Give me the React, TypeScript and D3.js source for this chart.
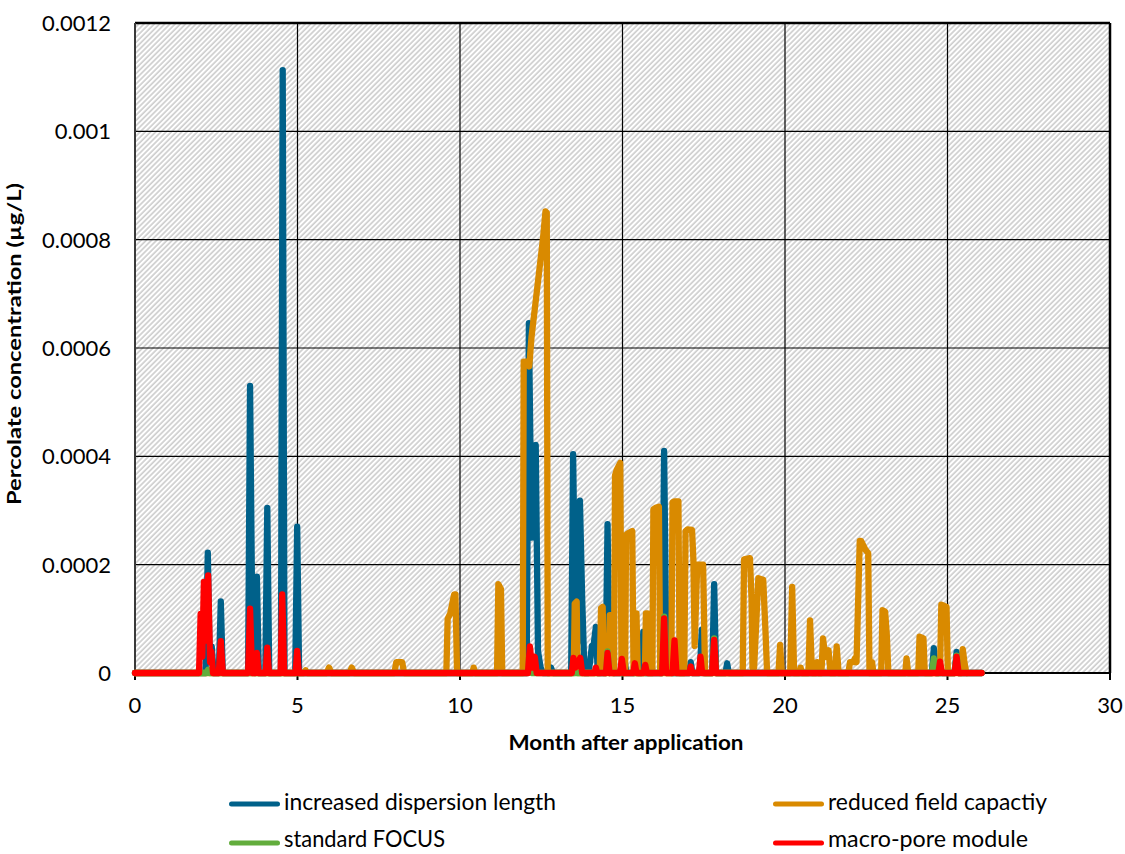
import React from "react";
import * as d3 from "d3";

type Pt = [number, number];

// Axis ticks
const xTicks = [0, 5, 10, 15, 20, 25, 30];
const yTicks = [0, 0.0002, 0.0004, 0.0006, 0.0008, 0.001, 0.0012];
const yTickLabels = ["0", "0.0002", "0.0004", "0.0006", "0.0008", "0.001", "0.0012"];

// Percolate concentration (µg/L) against month after application
const dispersionSeries: Pt[] = [
  [0, 0],
  [2.17, 0], [2.24, 0.000222], [2.3, 0.00002], [2.36, 0.000049], [2.42, 0],
  [2.58, 0], [2.64, 0.000132], [2.7, 0],
  [3.48, 0], [3.54, 0.00053], [3.62, 0.00002], [3.7, 0], [3.75, 0.000178], [3.81, 0],
  [4.01, 0], [4.07, 0.000305], [4.13, 0],
  [4.49, 0], [4.545, 0.001113], [4.6, 0],
  [4.93, 0], [4.99, 0.00027], [5.05, 0],
  [12.05, 0], [12.12, 0.000646], [12.2, 0.00025], [12.28, 0.00042], [12.33, 0.000421], [12.4, 0.00004], [12.48, 0.00001], [12.55, 0],
  [12.75, 0], [12.8, 0.00001], [12.86, 0],
  [13.42, 0], [13.48, 0.000404], [13.56, 0.00005], [13.64, 0.00006], [13.69, 0.000318], [13.76, 0.000135], [13.83, 0],
  [13.95, 0], [14.0, 0.00002], [14.06, 0.00005], [14.1, 0.000046], [14.18, 0.000085], [14.24, 0],
  [14.48, 0], [14.54, 0.000275], [14.6, 0], [14.66, 0.00002], [14.72, 0],
  [15.02, 0], [15.07, 0.00002], [15.12, 0],
  [15.36, 0], [15.42, 0.00003], [15.48, 0], [15.58, 0], [15.64, 0.000076], [15.7, 0],
  [16.22, 0], [16.28, 0.00041], [16.35, 0.00003], [16.45, 0.00004], [16.52, 0],
  [17.05, 0], [17.1, 0.00002], [17.15, 0],
  [17.38, 0], [17.44, 0.00008], [17.5, 0],
  [17.76, 0], [17.82, 0.000164], [17.88, 0],
  [18.17, 0], [18.22, 0.000018], [18.27, 0],
  [24.52, 0], [24.58, 0.000046], [24.65, 0],
  [25.22, 0], [25.28, 0.000039], [25.34, 0],
  [26.05, 0],
];

const fieldCapacitySeries: Pt[] = [
  [0, 0],
  [5.2, 0], [5.25, 0.000005], [5.3, 0],
  [5.9, 0], [5.97, 0.00001], [6.04, 0],
  [6.6, 0], [6.67, 0.00001], [6.74, 0],
  [7.98, 0], [8.04, 0.00002], [8.22, 0.00002], [8.28, 0],
  [9.58, 0], [9.62, 0.0001], [9.7, 0.00011], [9.82, 0.000145], [9.86, 0.000145], [9.91, 0],
  [10.38, 0], [10.42, 0.00001], [10.46, 0],
  [11.14, 0], [11.18, 0.000164], [11.26, 0.000155], [11.3, 0],
  [11.93, 0], [11.96, 0.000575], [12.06, 0.000575], [12.13, 0.000566], [12.2, 0.00062], [12.55, 0.0008], [12.63, 0.000852], [12.67, 0.00085], [12.7, 0],
  [13.5, 0], [13.53, 0.000128], [13.59, 0.000132], [13.62, 0],
  [14.3, 0], [14.34, 0.00012], [14.39, 0.000122], [14.43, 0],
  [14.58, 0], [14.61, 0.000107], [14.66, 0.000107], [14.7, 0],
  [14.74, 0], [14.77, 0.000365], [14.82, 0.000375], [14.93, 0.000388], [14.97, 0],
  [15.08, 0], [15.11, 0.000255], [15.17, 0.000258], [15.3, 0.000262], [15.34, 0],
  [15.4, 0], [15.43, 0.00011], [15.47, 0],
  [15.69, 0], [15.72, 0.00011], [15.77, 0.00011], [15.8, 0],
  [15.92, 0], [15.95, 0.000302], [16.02, 0.000305], [16.12, 0.000307], [16.16, 0],
  [16.5, 0], [16.54, 0.000315], [16.6, 0.000317], [16.72, 0.000317], [16.76, 0],
  [16.9, 0], [16.94, 0.000262], [17.0, 0.000265], [17.14, 0.000264], [17.18, 0.00021], [17.22, 0.00005], [17.3, 0.0002], [17.48, 0.0002], [17.54, 0],
  [18.7, 0], [18.74, 0.00021], [18.92, 0.000212], [18.97, 0.000138], [19.0, 0.00001], [19.05, 0.00001], [19.18, 0.000175], [19.33, 0.000172], [19.4, 0.000076], [19.45, 0],
  [19.8, 0], [19.85, 0.000052], [19.9, 0],
  [20.16, 0], [20.22, 0.000159], [20.28, 0],
  [20.44, 0], [20.48, 0.00001], [20.52, 0],
  [20.72, 0], [20.77, 0.000097], [20.83, 0],
  [20.95, 0], [20.99, 0.00002], [21.03, 0],
  [21.12, 0], [21.17, 0.000064], [21.24, 0.00003], [21.34, 0.000042], [21.4, 0],
  [21.54, 0], [21.59, 0.000049], [21.65, 0],
  [21.95, 0], [22.0, 0.00002], [22.1, 0.00002], [22.15, 0.000027], [22.2, 0.00002],
  [22.3, 0.000244], [22.34, 0.000244], [22.47, 0.000228], [22.56, 0.000221], [22.6, 0],
  [22.65, 0], [22.68, 0.00002], [22.72, 0],
  [22.96, 0], [23.0, 0.000116], [23.08, 0.000113], [23.13, 0.000073], [23.18, 0],
  [23.7, 0], [23.74, 0.000027], [23.79, 0],
  [24.1, 0], [24.14, 0.000067], [24.26, 0.000064], [24.3, 0],
  [24.77, 0], [24.81, 0.000126], [24.97, 0.000122], [25.01, 0],
  [25.42, 0], [25.47, 0.000044], [25.52, 0.00002], [25.58, 0],
  [25.6, 0],
];

const standardSeries: Pt[] = [
  [0, 0],
  [2.2, 0], [2.25, 0.000006], [2.3, 0],
  [12.1, 0], [12.15, 0.000012], [12.2, 0],
  [14.5, 0], [14.54, 0.00004], [14.6, 0],
  [16.22, 0], [16.28, 0.000104], [16.34, 0],
  [17.76, 0], [17.82, 0.000064], [17.88, 0],
  [24.52, 0], [24.58, 0.000027], [24.64, 0],
  [25.22, 0], [25.28, 0.000032], [25.34, 0],
  [26.05, 0],
];

const macroPoreSeries: Pt[] = [
  [0, 0],
  [1.97, 0], [2.02, 0.000109], [2.07, 0.00003], [2.12, 0.000168], [2.17, 0.00006], [2.25, 0.00018], [2.31, 0.00002], [2.35, 0.00004], [2.4, 0],
  [2.58, 0], [2.64, 0.000059], [2.7, 0],
  [3.48, 0], [3.54, 0.000119], [3.6, 0], [3.7, 0], [3.75, 0.000037], [3.8, 0],
  [4.02, 0], [4.07, 0.000047], [4.12, 0],
  [4.48, 0], [4.53, 0.000145], [4.59, 0],
  [4.94, 0], [4.99, 0.000041], [5.04, 0],
  [12.09, 0], [12.15, 0.000049], [12.22, 0.00001], [12.3, 0.00003], [12.36, 0],
  [13.44, 0], [13.49, 0.000028], [13.55, 0.00001], [13.7, 0.000028], [13.76, 0],
  [14.14, 0], [14.18, 0.00001], [14.22, 0],
  [14.49, 0], [14.54, 0.000037], [14.6, 0],
  [14.92, 0], [14.98, 0.000026], [15.04, 0],
  [15.33, 0], [15.38, 0.000018], [15.43, 0],
  [15.65, 0], [15.7, 0.000015], [15.75, 0],
  [16.22, 0], [16.28, 0.000101], [16.34, 0],
  [16.54, 0], [16.6, 0.00006], [16.66, 0],
  [17.06, 0], [17.1, 0.000012], [17.14, 0],
  [17.35, 0], [17.4, 0.00003], [17.45, 0],
  [17.76, 0], [17.82, 0.000061], [17.88, 0],
  [24.72, 0], [24.77, 0.000021], [24.83, 0],
  [25.22, 0], [25.28, 0.00003], [25.34, 0],
  [26.05, 0],
];

const seriesNames = [
  "increased dispersion length",
  "reduced field capactiy",
  "standard FOCUS",
  "macro-pore module",
];
const seriesColors = ["#00618a", "#d98a00", "#62ad3c", "#ff0000"];
const seriesData = [dispersionSeries, fieldCapacitySeries, standardSeries, macroPoreSeries];

const W = 1125;
const H = 854;
const plot = { left: 135, right: 1110, top: 23, bottom: 673 };

export default function App() {
  const x = d3.scaleLinear().domain([0, 30]).range([plot.left, plot.right]);
  const y = d3.scaleLinear().domain([0, 0.0012]).range([plot.bottom, plot.top]);
  const line = d3
    .line<Pt>()
    .x((d) => x(d[0]))
    .y((d) => y(d[1]));

  const font = "Lato, 'Open Sans', sans-serif";

  // legend layout: two columns, two rows
  const legendItems = [
    { i: 0, lx: 231.5, tx: 284, row: 0, len: 272 },
    { i: 1, lx: 775.5, tx: 828, row: 0, len: 219 },
    { i: 2, lx: 231.5, tx: 284, row: 1, len: 161 },
    { i: 3, lx: 775.5, tx: 828, row: 1, len: 200 },
  ];
  const rowLineY = [804, 843];
  const rowTextY = [810, 847];

  return (
    <svg
      width={W}
      height={H}
      style={{ position: "absolute", left: 0, top: 0, background: "#fff" }}
      fontFamily={font}
    >
      <defs>
        <pattern
          id="hatch"
          patternUnits="userSpaceOnUse"
          width={3.68}
          height={10}
          patternTransform="rotate(45)"
        >
          <rect width={3.68} height={10} fill="#ffffff" />
          <line x1={1} y1={0} x2={1} y2={10} stroke="#c9c9c9" strokeWidth={1.5} />
        </pattern>
        <clipPath id="plotClip">
          <rect x={plot.left - 4} y={plot.top - 4} width={plot.right - plot.left + 8} height={plot.bottom - plot.top + 8} />
        </clipPath>
      </defs>

      {/* plot background */}
      <rect
        x={plot.left}
        y={plot.top}
        width={plot.right - plot.left}
        height={plot.bottom - plot.top}
        fill="url(#hatch)"
      />

      {/* gridlines */}
      {xTicks.slice(1, -1).map((t) => (
        <line key={"gx" + t} x1={x(t)} x2={x(t)} y1={plot.top} y2={plot.bottom} stroke="#000" strokeWidth={1.2} />
      ))}
      {yTicks.slice(1, -1).map((t) => (
        <line key={"gy" + t} x1={plot.left} x2={plot.right} y1={y(t)} y2={y(t)} stroke="#000" strokeWidth={1.2} />
      ))}

      {/* frame */}
      <line x1={plot.left} x2={plot.right} y1={plot.top} y2={plot.top} stroke="#000" strokeWidth={2.5} />
      <line x1={plot.right} x2={plot.right} y1={plot.top} y2={plot.bottom} stroke="#000" strokeWidth={2.5} />
      <line x1={plot.left} x2={plot.left} y1={plot.top} y2={plot.bottom} stroke="#3a3a3a" strokeWidth={2} />
      <line x1={plot.left} x2={plot.right} y1={plot.bottom} y2={plot.bottom} stroke="#000" strokeWidth={2} />

      {/* x ticks */}
      {xTicks.map((t) => (
        <line key={"xt" + t} x1={x(t)} x2={x(t)} y1={plot.bottom} y2={plot.bottom + 7} stroke="#000" strokeWidth={2} />
      ))}

      {/* series */}
      <g clipPath="url(#plotClip)">
        {seriesData.map((data, i) => (
          <path
            key={"s" + i}
            d={line(data) || ""}
            fill="none"
            stroke={seriesColors[i]}
            strokeWidth={6.3}
            strokeLinejoin="round"
            strokeLinecap="round"
          />
        ))}
      </g>

      {/* tick labels */}
      {yTicks.map((t, k) => (
        <text key={"yl" + t} x={111} y={y(t)} dy="0.36em" textAnchor="end" fontSize={22} fill="#000">
          {yTickLabels[k]}
        </text>
      ))}
      {xTicks.map((t) => (
        <text key={"xl" + t} x={x(t)} y={712.5} textAnchor="middle" fontSize={22} fill="#000">
          {t}
        </text>
      ))}

      {/* axis titles */}
      <text
        x={626}
        y={750}
        textAnchor="middle"
        fontSize={21}
        fontWeight="bold"
        textLength={235}
        lengthAdjust="spacingAndGlyphs"
      >
        Month after application
      </text>
      <text
        transform={`translate(21,344) rotate(-90)`}
        textAnchor="middle"
        fontSize={18.5}
        fontWeight="bold"
        textLength={322}
        lengthAdjust="spacingAndGlyphs"
      >
        Percolate concentration (µg/L)
      </text>

      {/* legend */}
      {legendItems.map((it) => (
        <g key={"lg" + it.i}>
          <line
            x1={it.lx}
            x2={it.lx + 46}
            y1={rowLineY[it.row]}
            y2={rowLineY[it.row]}
            stroke={seriesColors[it.i]}
            strokeWidth={5}
            strokeLinecap="round"
          />
          <text
            x={it.tx}
            y={rowTextY[it.row]}
            fontSize={24}
            textLength={it.len}
            lengthAdjust="spacingAndGlyphs"
            fill="#000"
          >
            {seriesNames[it.i]}
          </text>
        </g>
      ))}
    </svg>
  );
}
